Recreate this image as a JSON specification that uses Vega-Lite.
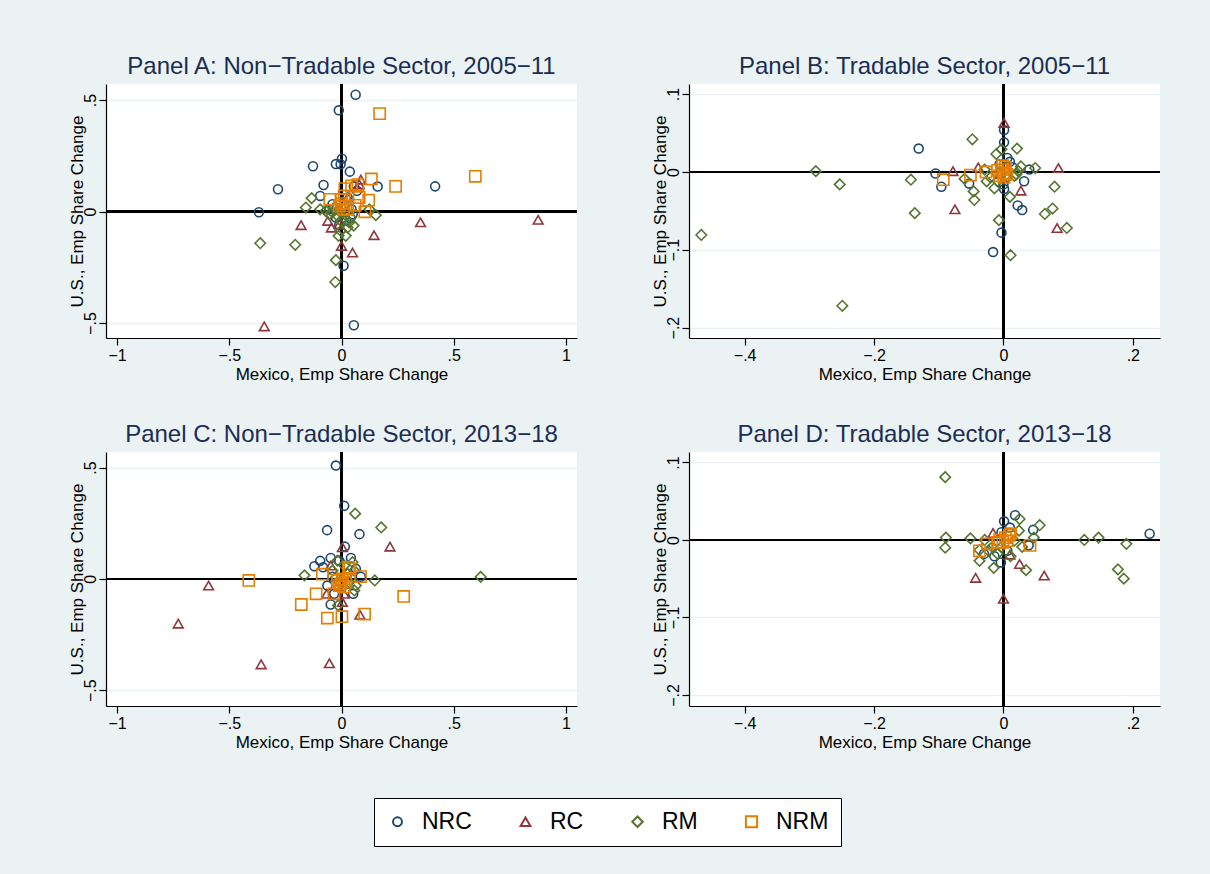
{
"$schema": "https://vega.github.io/schema/vega-lite/v6.json",
"background": "#EAF2F3",
"padding": {"left": 68, "top": 55, "right": 49, "bottom": 27},
"datasets": {"pts": [
{"panel":"A","group":"NRC","x":0.063,"y":0.524},{"panel":"A","group":"NRC","x":-0.012,"y":0.454},{"panel":"A","group":"NRC","x":0.002,"y":0.237},{"panel":"A","group":"NRC","x":-0.025,"y":0.213},{"panel":"A","group":"NRC","x":-0.004,"y":0.212},{"panel":"A","group":"NRC","x":-0.127,"y":0.203},{"panel":"A","group":"NRC","x":0.037,"y":0.179},{"panel":"A","group":"NRC","x":-0.283,"y":0.1},{"panel":"A","group":"NRC","x":-0.08,"y":0.119},{"panel":"A","group":"NRC","x":0.161,"y":0.112},{"panel":"A","group":"NRC","x":0.417,"y":0.113},{"panel":"A","group":"NRC","x":0.055,"y":0.113},{"panel":"A","group":"NRC","x":0.069,"y":0.093},{"panel":"A","group":"NRC","x":-0.095,"y":0.07},{"panel":"A","group":"NRC","x":-0.368,"y":-0.003},{"panel":"A","group":"NRC","x":0.009,"y":-0.243},{"panel":"A","group":"NRC","x":0.055,"y":-0.51},{"panel":"A","group":"NRC","x":-0.04,"y":0.033},{"panel":"A","group":"NRC","x":0.027,"y":0.063},{"panel":"A","group":"NRC","x":0.05,"y":-0.012},{"panel":"A","group":"NRC","x":0.02,"y":-0.04},{"panel":"A","group":"NRC","x":-0.025,"y":-0.027},{"panel":"A","group":"NRC","x":-0.055,"y":0.01},{"panel":"A","group":"NRC","x":0.045,"y":0.01},{"panel":"A","group":"NRC","x":-0.01,"y":-0.06},{"panel":"A","group":"NRC","x":0.04,"y":-0.03},
{"panel":"A","group":"RC","x":0.086,"y":0.143},{"panel":"A","group":"RC","x":0.079,"y":0.122},{"panel":"A","group":"RC","x":-0.18,"y":-0.061},{"panel":"A","group":"RC","x":-0.061,"y":-0.042},{"panel":"A","group":"RC","x":-0.045,"y":-0.072},{"panel":"A","group":"RC","x":0.352,"y":-0.048},{"panel":"A","group":"RC","x":0.876,"y":-0.037},{"panel":"A","group":"RC","x":0.145,"y":-0.106},{"panel":"A","group":"RC","x":0.0,"y":-0.154},{"panel":"A","group":"RC","x":0.049,"y":-0.184},{"panel":"A","group":"RC","x":-0.344,"y":-0.515},{"panel":"A","group":"RC","x":0.027,"y":0.063},{"panel":"A","group":"RC","x":-0.01,"y":-0.057},
{"panel":"A","group":"RM","x":-0.133,"y":0.06},{"panel":"A","group":"RM","x":-0.159,"y":0.018},{"panel":"A","group":"RM","x":-0.095,"y":0.01},{"panel":"A","group":"RM","x":-0.362,"y":-0.142},{"panel":"A","group":"RM","x":-0.206,"y":-0.149},{"panel":"A","group":"RM","x":-0.025,"y":-0.218},{"panel":"A","group":"RM","x":-0.028,"y":-0.316},{"panel":"A","group":"RM","x":0.153,"y":-0.016},{"panel":"A","group":"RM","x":0.124,"y":0.01},{"panel":"A","group":"RM","x":0.054,"y":-0.063},{"panel":"A","group":"RM","x":0.019,"y":-0.109},{"panel":"A","group":"RM","x":-0.013,"y":-0.109},{"panel":"A","group":"RM","x":-0.003,"y":-0.087},{"panel":"A","group":"RM","x":0.027,"y":-0.072},{"panel":"A","group":"RM","x":-0.04,"y":-0.004},{"panel":"A","group":"RM","x":-0.018,"y":-0.019},{"panel":"A","group":"RM","x":0.012,"y":-0.027},{"panel":"A","group":"RM","x":-0.01,"y":0.003},{"panel":"A","group":"RM","x":-0.033,"y":0.018},{"panel":"A","group":"RM","x":0.019,"y":-0.004},{"panel":"A","group":"RM","x":-0.055,"y":-0.012},{"panel":"A","group":"RM","x":0.042,"y":-0.027},{"panel":"A","group":"RM","x":-0.07,"y":0.003},{"panel":"A","group":"RM","x":-0.003,"y":-0.042},{"panel":"A","group":"RM","x":0.034,"y":-0.049},
{"panel":"A","group":"NRM","x":0.17,"y":0.439},{"panel":"A","group":"NRM","x":0.596,"y":0.158},{"panel":"A","group":"NRM","x":0.241,"y":0.113},{"panel":"A","group":"NRM","x":0.133,"y":0.146},{"panel":"A","group":"NRM","x":0.045,"y":0.115},{"panel":"A","group":"NRM","x":0.073,"y":0.121},{"panel":"A","group":"NRM","x":0.015,"y":0.103},{"panel":"A","group":"NRM","x":0.079,"y":0.063},{"panel":"A","group":"NRM","x":0.121,"y":0.051},{"panel":"A","group":"NRM","x":-0.052,"y":0.055},{"panel":"A","group":"NRM","x":0.061,"y":0.028},{"panel":"A","group":"NRM","x":0.104,"y":-0.001},{"panel":"A","group":"NRM","x":0.0,"y":0.055},{"panel":"A","group":"NRM","x":0.0,"y":0.036},{"panel":"A","group":"NRM","x":0.009,"y":0.01},{"panel":"A","group":"NRM","x":0.027,"y":0.01},{"panel":"A","group":"NRM","x":-0.01,"y":0.025},{"panel":"A","group":"NRM","x":0.012,"y":0.07},{"panel":"A","group":"NRM","x":0.019,"y":0.025},
{"panel":"B","group":"NRC","x":-0.131,"y":0.03},{"panel":"B","group":"NRC","x":0.001,"y":0.054},{"panel":"B","group":"NRC","x":0.001,"y":0.038},{"panel":"B","group":"NRC","x":-0.105,"y":-0.002},{"panel":"B","group":"NRC","x":-0.096,"y":-0.019},{"panel":"B","group":"NRC","x":-0.053,"y":-0.015},{"panel":"B","group":"NRC","x":0.032,"y":-0.012},{"panel":"B","group":"NRC","x":0.022,"y":-0.043},{"panel":"B","group":"NRC","x":0.029,"y":-0.049},{"panel":"B","group":"NRC","x":-0.003,"y":-0.078},{"panel":"B","group":"NRC","x":-0.016,"y":-0.103},{"panel":"B","group":"NRC","x":0.04,"y":0.003},{"panel":"B","group":"NRC","x":0.01,"y":0.013},{"panel":"B","group":"NRC","x":0.006,"y":0.018},{"panel":"B","group":"NRC","x":0.001,"y":-0.022},{"panel":"B","group":"NRC","x":0.0,"y":-0.016},{"panel":"B","group":"NRC","x":-0.006,"y":0.01},{"panel":"B","group":"NRC","x":0.014,"y":0.006},
{"panel":"B","group":"RC","x":0.001,"y":0.063},{"panel":"B","group":"RC","x":-0.078,"y":0.001},{"panel":"B","group":"RC","x":-0.039,"y":0.006},{"panel":"B","group":"RC","x":-0.075,"y":-0.048},{"panel":"B","group":"RC","x":0.027,"y":-0.024},{"panel":"B","group":"RC","x":0.085,"y":0.005},{"panel":"B","group":"RC","x":0.083,"y":-0.072},{"panel":"B","group":"RC","x":-0.006,"y":-0.003},
{"panel":"B","group":"RM","x":-0.467,"y":-0.081},{"panel":"B","group":"RM","x":-0.29,"y":0.001},{"panel":"B","group":"RM","x":-0.253,"y":-0.016},{"panel":"B","group":"RM","x":-0.249,"y":-0.172},{"panel":"B","group":"RM","x":-0.143,"y":-0.01},{"panel":"B","group":"RM","x":-0.137,"y":-0.053},{"panel":"B","group":"RM","x":-0.048,"y":0.042},{"panel":"B","group":"RM","x":-0.046,"y":-0.025},{"panel":"B","group":"RM","x":-0.045,"y":-0.036},{"panel":"B","group":"RM","x":-0.007,"y":-0.062},{"panel":"B","group":"RM","x":0.011,"y":-0.107},{"panel":"B","group":"RM","x":0.021,"y":0.03},{"panel":"B","group":"RM","x":-0.011,"y":0.023},{"panel":"B","group":"RM","x":0.027,"y":0.007},{"panel":"B","group":"RM","x":0.049,"y":0.005},{"panel":"B","group":"RM","x":0.01,"y":-0.032},{"panel":"B","group":"RM","x":0.079,"y":-0.019},{"panel":"B","group":"RM","x":0.076,"y":-0.047},{"panel":"B","group":"RM","x":0.064,"y":-0.054},{"panel":"B","group":"RM","x":0.098,"y":-0.072},{"panel":"B","group":"RM","x":-0.014,"y":-0.021},{"panel":"B","group":"RM","x":-0.026,"y":-0.012},{"panel":"B","group":"RM","x":-0.029,"y":0.003},{"panel":"B","group":"RM","x":-0.003,"y":0.029},{"panel":"B","group":"RM","x":0.02,"y":-0.003},{"panel":"B","group":"RM","x":0.023,"y":0.001},{"panel":"B","group":"RM","x":-0.02,"y":-0.007},{"panel":"B","group":"RM","x":-0.009,"y":-0.012},{"panel":"B","group":"RM","x":0.006,"y":-0.007},{"panel":"B","group":"RM","x":0.017,"y":-0.005},{"panel":"B","group":"RM","x":-0.06,"y":-0.009},
{"panel":"B","group":"NRM","x":-0.093,"y":-0.01},{"panel":"B","group":"NRM","x":-0.051,"y":-0.004},{"panel":"B","group":"NRM","x":-0.027,"y":0.0},{"panel":"B","group":"NRM","x":-0.009,"y":0.002},{"panel":"B","group":"NRM","x":-0.003,"y":0.003},{"panel":"B","group":"NRM","x":0.003,"y":0.006},{"panel":"B","group":"NRM","x":0.0,"y":-0.001},{"panel":"B","group":"NRM","x":-0.006,"y":-0.005},{"panel":"B","group":"NRM","x":0.005,"y":-0.003},{"panel":"B","group":"NRM","x":0.001,"y":-0.007},{"panel":"B","group":"NRM","x":-0.001,"y":0.008},
{"panel":"C","group":"NRC","x":-0.025,"y":0.509},{"panel":"C","group":"NRC","x":0.012,"y":0.328},{"panel":"C","group":"NRC","x":-0.064,"y":0.219},{"panel":"C","group":"NRC","x":0.08,"y":0.201},{"panel":"C","group":"NRC","x":0.015,"y":0.145},{"panel":"C","group":"NRC","x":-0.095,"y":0.081},{"panel":"C","group":"NRC","x":-0.121,"y":0.057},{"panel":"C","group":"NRC","x":-0.048,"y":0.094},{"panel":"C","group":"NRC","x":0.042,"y":0.094},{"panel":"C","group":"NRC","x":-0.082,"y":0.052},{"panel":"C","group":"NRC","x":0.086,"y":0.01},{"panel":"C","group":"NRC","x":-0.063,"y":-0.03},{"panel":"C","group":"NRC","x":-0.033,"y":-0.067},{"panel":"C","group":"NRC","x":-0.048,"y":-0.115},{"panel":"C","group":"NRC","x":0.052,"y":-0.067},{"panel":"C","group":"NRC","x":-0.04,"y":0.01},{"panel":"C","group":"NRC","x":0.064,"y":0.045},{"panel":"C","group":"NRC","x":-0.01,"y":0.082},{"panel":"C","group":"NRC","x":0.027,"y":-0.022},
{"panel":"C","group":"RC","x":0.004,"y":0.142},{"panel":"C","group":"RC","x":0.216,"y":0.145},{"panel":"C","group":"RC","x":-0.048,"y":0.06},{"panel":"C","group":"RC","x":-0.592,"y":-0.03},{"panel":"C","group":"RC","x":-0.727,"y":-0.201},{"panel":"C","group":"RC","x":-0.358,"y":-0.384},{"panel":"C","group":"RC","x":-0.054,"y":-0.379},{"panel":"C","group":"RC","x":0.082,"y":-0.161},{"panel":"C","group":"RC","x":-0.066,"y":-0.067},{"panel":"C","group":"RC","x":0.004,"y":-0.104},{"panel":"C","group":"RC","x":0.012,"y":-0.067},
{"panel":"C","group":"RM","x":0.061,"y":0.293},{"panel":"C","group":"RM","x":0.177,"y":0.231},{"panel":"C","group":"RM","x":-0.165,"y":0.016},{"panel":"C","group":"RM","x":0.148,"y":-0.007},{"panel":"C","group":"RM","x":0.62,"y":0.009},{"panel":"C","group":"RM","x":-0.015,"y":-0.119},{"panel":"C","group":"RM","x":-0.018,"y":0.082},{"panel":"C","group":"RM","x":0.049,"y":0.075},{"panel":"C","group":"RM","x":0.057,"y":0.037},{"panel":"C","group":"RM","x":0.064,"y":-0.03},{"panel":"C","group":"RM","x":0.057,"y":-0.052},{"panel":"C","group":"RM","x":-0.04,"y":0.037},{"panel":"C","group":"RM","x":0.012,"y":0.06},{"panel":"C","group":"RM","x":-0.025,"y":0.007},{"panel":"C","group":"RM","x":0.027,"y":0.022},{"panel":"C","group":"RM","x":-0.01,"y":-0.015},{"panel":"C","group":"RM","x":0.034,"y":-0.015},
{"panel":"C","group":"NRM","x":-0.413,"y":-0.007},{"panel":"C","group":"NRM","x":-0.085,"y":0.021},{"panel":"C","group":"NRM","x":-0.113,"y":-0.067},{"panel":"C","group":"NRM","x":-0.179,"y":-0.115},{"panel":"C","group":"NRM","x":-0.063,"y":-0.176},{"panel":"C","group":"NRM","x":0.002,"y":-0.17},{"panel":"C","group":"NRM","x":0.103,"y":-0.158},{"panel":"C","group":"NRM","x":0.277,"y":-0.079},{"panel":"C","group":"NRM","x":0.085,"y":0.01},{"panel":"C","group":"NRM","x":0.031,"y":0.052},{"panel":"C","group":"NRM","x":-0.034,"y":-0.067},{"panel":"C","group":"NRM","x":-0.018,"y":-0.007},{"panel":"C","group":"NRM","x":0.004,"y":0.0},{"panel":"C","group":"NRM","x":0.019,"y":-0.015},{"panel":"C","group":"NRM","x":-0.01,"y":-0.03},{"panel":"C","group":"NRM","x":0.012,"y":-0.037},{"panel":"C","group":"NRM","x":-0.003,"y":-0.022},{"panel":"C","group":"NRM","x":0.037,"y":0.045},
{"panel":"D","group":"NRC","x":0.226,"y":0.008},{"panel":"D","group":"NRC","x":0.018,"y":0.032},{"panel":"D","group":"NRC","x":0.001,"y":0.024},{"panel":"D","group":"NRC","x":0.046,"y":0.013},{"panel":"D","group":"NRC","x":0.01,"y":0.016},{"panel":"D","group":"NRC","x":-0.014,"y":-0.021},{"panel":"D","group":"NRC","x":-0.004,"y":-0.029},{"panel":"D","group":"NRC","x":-0.03,"y":-0.018},{"panel":"D","group":"NRC","x":0.039,"y":-0.007},{"panel":"D","group":"NRC","x":-0.003,"y":0.01},{"panel":"D","group":"NRC","x":0.006,"y":-0.014},
{"panel":"D","group":"RC","x":-0.043,"y":-0.049},{"panel":"D","group":"RC","x":0.0,"y":-0.076},{"panel":"D","group":"RC","x":0.025,"y":-0.031},{"panel":"D","group":"RC","x":0.063,"y":-0.046},{"panel":"D","group":"RC","x":0.01,"y":-0.019},{"panel":"D","group":"RC","x":-0.016,"y":0.009},
{"panel":"D","group":"RM","x":-0.09,"y":0.081},{"panel":"D","group":"RM","x":-0.089,"y":0.003},{"panel":"D","group":"RM","x":-0.09,"y":-0.01},{"panel":"D","group":"RM","x":-0.051,"y":0.002},{"panel":"D","group":"RM","x":-0.037,"y":-0.027},{"panel":"D","group":"RM","x":-0.015,"y":-0.036},{"panel":"D","group":"RM","x":0.035,"y":-0.039},{"panel":"D","group":"RM","x":0.025,"y":0.027},{"panel":"D","group":"RM","x":0.024,"y":0.012},{"panel":"D","group":"RM","x":0.056,"y":0.019},{"panel":"D","group":"RM","x":0.047,"y":0.003},{"panel":"D","group":"RM","x":0.125,"y":0.0},{"panel":"D","group":"RM","x":0.147,"y":0.003},{"panel":"D","group":"RM","x":0.19,"y":-0.005},{"panel":"D","group":"RM","x":0.177,"y":-0.038},{"panel":"D","group":"RM","x":0.186,"y":-0.05},{"panel":"D","group":"RM","x":-0.029,"y":0.0},{"panel":"D","group":"RM","x":0.029,"y":-0.009},{"panel":"D","group":"RM","x":0.011,"y":-0.021},{"panel":"D","group":"RM","x":-0.009,"y":-0.018},{"panel":"D","group":"RM","x":-0.017,"y":-0.009},{"panel":"D","group":"RM","x":0.017,"y":-0.001},{"panel":"D","group":"RM","x":-0.023,"y":-0.014},{"panel":"D","group":"RM","x":-0.003,"y":-0.009},{"panel":"D","group":"RM","x":-0.037,"y":-0.013},
{"panel":"D","group":"NRM","x":-0.037,"y":-0.014},{"panel":"D","group":"NRM","x":-0.025,"y":-0.005},{"panel":"D","group":"NRM","x":0.041,"y":-0.007},{"panel":"D","group":"NRM","x":0.011,"y":0.008},{"panel":"D","group":"NRM","x":-0.006,"y":0.0},{"panel":"D","group":"NRM","x":0.003,"y":0.003},{"panel":"D","group":"NRM","x":-0.001,"y":-0.003},{"panel":"D","group":"NRM","x":0.006,"y":-0.001},{"panel":"D","group":"NRM","x":-0.009,"y":-0.003},{"panel":"D","group":"NRM","x":0.009,"y":0.006}
]},
"data": {"name": "pts"},
"columns": 2,
"spacing": {"row": 41, "column": 73},
"concat": [
{
"title": {"text": "Panel A: Non−Tradable Sector, 2005−11"},
"width": 471, "height": 254,
"transform": [{"filter": "datum.panel === 'A'"}],
"layer": [
{"mark": {"type": "rule", "color": "black", "strokeWidth": 1.4}, "encoding": {"x": {"datum": 0, "type": "quantitative", "scale": {"domain": [-1.049, 1.049], "nice": false, "zero": false}}}},
{"mark": {"type": "rule", "color": "black", "strokeWidth": 1.4}, "encoding": {"y": {"datum": 0, "type": "quantitative", "scale": {"domain": [-0.567, 0.572], "nice": false, "zero": false}}}},
{"mark": {"type": "point", "filled": false, "strokeWidth": 1.6, "opacity": 1},
 "encoding": {
  "x": {"field": "x", "type": "quantitative", "scale": {"domain": [-1.049, 1.049], "nice": false, "zero": false}, "axis": {"values": [-1, -0.5, 0, 0.5, 1], "title": "Mexico, Emp Share Change"}},
  "y": {"field": "y", "type": "quantitative", "scale": {"domain": [-0.567, 0.572], "nice": false, "zero": false}, "axis": {"values": [-0.5, 0, 0.5], "title": "U.S., Emp Share Change"}},
  "color": {"field": "group", "type": "nominal", "scale": {"domain": ["NRC", "RC", "RM", "NRM"], "range": ["#1a476f", "#90353b", "#55752f", "#e37e00"]}, "legend": {"title": null}},
  "shape": {"field": "group", "type": "nominal", "scale": {"domain": ["NRC", "RC", "RM", "NRM"], "range": ["circle", "triangle-up", "diamond", "square"]}, "legend": {"title": null}},
  "size": {"field": "group", "type": "nominal", "scale": {"domain": ["NRC", "RC", "RM", "NRM"], "range": [80, 125, 145, 85]}, "legend": null}
 }}
]
},
{
"title": {"text": "Panel B: Tradable Sector, 2005−11"},
"width": 471, "height": 254,
"transform": [{"filter": "datum.panel === 'B'"}],
"layer": [
{"mark": {"type": "rule", "color": "black", "strokeWidth": 1.4}, "encoding": {"x": {"datum": 0, "type": "quantitative", "scale": {"domain": [-0.486, 0.242], "nice": false, "zero": false}}}},
{"mark": {"type": "rule", "color": "black", "strokeWidth": 1.4}, "encoding": {"y": {"datum": 0, "type": "quantitative", "scale": {"domain": [-0.2134, 0.113], "nice": false, "zero": false}}}},
{"mark": {"type": "point", "filled": false, "strokeWidth": 1.6, "opacity": 1},
 "encoding": {
  "x": {"field": "x", "type": "quantitative", "scale": {"domain": [-0.486, 0.242], "nice": false, "zero": false}, "axis": {"values": [-0.4, -0.2, 0, 0.2], "title": "Mexico, Emp Share Change"}},
  "y": {"field": "y", "type": "quantitative", "scale": {"domain": [-0.2134, 0.113], "nice": false, "zero": false}, "axis": {"values": [-0.2, -0.1, 0, 0.1], "title": "U.S., Emp Share Change"}},
  "color": {"field": "group", "type": "nominal", "scale": {"domain": ["NRC", "RC", "RM", "NRM"], "range": ["#1a476f", "#90353b", "#55752f", "#e37e00"]}, "legend": {"title": null}},
  "shape": {"field": "group", "type": "nominal", "scale": {"domain": ["NRC", "RC", "RM", "NRM"], "range": ["circle", "triangle-up", "diamond", "square"]}, "legend": {"title": null}},
  "size": {"field": "group", "type": "nominal", "scale": {"domain": ["NRC", "RC", "RM", "NRM"], "range": [80, 125, 145, 85]}, "legend": null}
 }}
]
},
{
"title": {"text": "Panel C: Non−Tradable Sector, 2013−18"},
"width": 471, "height": 254,
"transform": [{"filter": "datum.panel === 'C'"}],
"layer": [
{"mark": {"type": "rule", "color": "black", "strokeWidth": 1.4}, "encoding": {"x": {"datum": 0, "type": "quantitative", "scale": {"domain": [-1.049, 1.049], "nice": false, "zero": false}}}},
{"mark": {"type": "rule", "color": "black", "strokeWidth": 1.4}, "encoding": {"y": {"datum": 0, "type": "quantitative", "scale": {"domain": [-0.571, 0.57], "nice": false, "zero": false}}}},
{"mark": {"type": "point", "filled": false, "strokeWidth": 1.6, "opacity": 1},
 "encoding": {
  "x": {"field": "x", "type": "quantitative", "scale": {"domain": [-1.049, 1.049], "nice": false, "zero": false}, "axis": {"values": [-1, -0.5, 0, 0.5, 1], "title": "Mexico, Emp Share Change"}},
  "y": {"field": "y", "type": "quantitative", "scale": {"domain": [-0.571, 0.57], "nice": false, "zero": false}, "axis": {"values": [-0.5, 0, 0.5], "title": "U.S., Emp Share Change"}},
  "color": {"field": "group", "type": "nominal", "scale": {"domain": ["NRC", "RC", "RM", "NRM"], "range": ["#1a476f", "#90353b", "#55752f", "#e37e00"]}, "legend": {"title": null}},
  "shape": {"field": "group", "type": "nominal", "scale": {"domain": ["NRC", "RC", "RM", "NRM"], "range": ["circle", "triangle-up", "diamond", "square"]}, "legend": {"title": null}},
  "size": {"field": "group", "type": "nominal", "scale": {"domain": ["NRC", "RC", "RM", "NRM"], "range": [80, 125, 145, 85]}, "legend": null}
 }}
]
},
{
"title": {"text": "Panel D: Tradable Sector, 2013−18"},
"width": 471, "height": 254,
"transform": [{"filter": "datum.panel === 'D'"}],
"layer": [
{"mark": {"type": "rule", "color": "black", "strokeWidth": 1.4}, "encoding": {"x": {"datum": 0, "type": "quantitative", "scale": {"domain": [-0.486, 0.242], "nice": false, "zero": false}}}},
{"mark": {"type": "rule", "color": "black", "strokeWidth": 1.4}, "encoding": {"y": {"datum": 0, "type": "quantitative", "scale": {"domain": [-0.2143, 0.1135], "nice": false, "zero": false}}}},
{"mark": {"type": "point", "filled": false, "strokeWidth": 1.6, "opacity": 1},
 "encoding": {
  "x": {"field": "x", "type": "quantitative", "scale": {"domain": [-0.486, 0.242], "nice": false, "zero": false}, "axis": {"values": [-0.4, -0.2, 0, 0.2], "title": "Mexico, Emp Share Change"}},
  "y": {"field": "y", "type": "quantitative", "scale": {"domain": [-0.2143, 0.1135], "nice": false, "zero": false}, "axis": {"values": [-0.2, -0.1, 0, 0.1], "title": "U.S., Emp Share Change"}},
  "color": {"field": "group", "type": "nominal", "scale": {"domain": ["NRC", "RC", "RM", "NRM"], "range": ["#1a476f", "#90353b", "#55752f", "#e37e00"]}, "legend": {"title": null}},
  "shape": {"field": "group", "type": "nominal", "scale": {"domain": ["NRC", "RC", "RM", "NRM"], "range": ["circle", "triangle-up", "diamond", "square"]}, "legend": {"title": null}},
  "size": {"field": "group", "type": "nominal", "scale": {"domain": ["NRC", "RC", "RM", "NRM"], "range": [80, 125, 145, 85]}, "legend": null}
 }}
]
}
],
"config": {
 "font": "Liberation Sans",
 "view": {"fill": "white", "stroke": null},
 "title": {"font": "Liberation Sans", "fontSize": 24, "fontWeight": "normal", "color": "#1c2d55", "anchor": "middle", "frame": "group", "offset": 0},
 "axis": {"domainColor": "black", "domainWidth": 1.2, "tickColor": "black", "tickSize": 7, "tickWidth": 1.2, "labelFont": "Liberation Sans", "labelFontSize": 16, "labelColor": "black", "titleFont": "Liberation Sans", "titleFontSize": 17, "titleFontWeight": "normal", "titleColor": "black", "labelPadding": 2, "titlePadding": 3, "labelFlush": false, "format": "~g", "labelExpr": "replace(datum.label, '0.', '.')"},
 "axisX": {"grid": false},
 "axisY": {"grid": true, "gridColor": "#EAF2F3", "gridWidth": 1.5, "labelAngle": -90, "labelPadding": 1, "titlePadding": -4},
 "legend": {"orient": "none", "legendX": 268, "legendY": 714, "direction": "horizontal", "labelFont": "Liberation Sans", "labelFontSize": 23, "labelColor": "black", "symbolSize": 130, "symbolStrokeWidth": 2, "padding": 12, "fillColor": "white", "strokeColor": "black", "columnPadding": 42, "labelOffset": 13}
}
}
